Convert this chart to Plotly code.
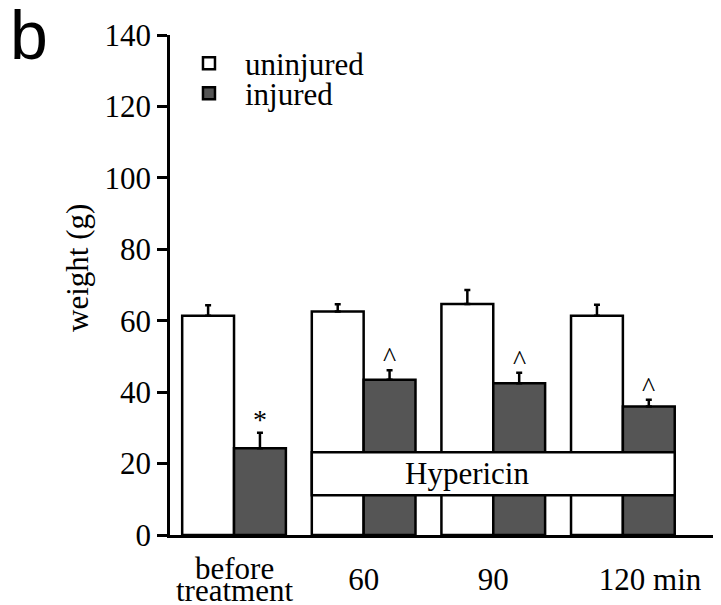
import plotly.graph_objects as go

# ---- data ----
categories = ["before treatment", "60", "90", "120 min"]
tick_labels = ["", "60", "90", "\u00a0" * 7 + "120 min"]
before_label_lines = ["before", "treatment"]
uninjured = [61.4, 62.6, 64.7, 61.4]
uninjured_err = [2.9, 2.0, 3.9, 3.1]
injured = [24.3, 43.5, 42.5, 36.0]
injured_err = [4.3, 2.6, 2.9, 1.9]
injured_marks = ["*", "^", "^", "^"]
hypericin_groups = [1, 3]          # first and last group under Hypericin
hypericin_band = [11.1, 23.2]      # vertical extent of the Hypericin bar
y_ticks = [0, 20, 40, 60, 80, 100, 120, 140]

# ---- layout constants ----
SERIF = "Liberation Serif"
SANS = "Liberation Sans"
FS = 31
BARGAP = 0.2
BAR_W = (1 - BARGAP) / 2
LW = 2.5
DARK = "#555555"

x_pos = list(range(len(categories)))

fig = go.Figure()
fig.add_trace(go.Bar(
    name="uninjured", x=x_pos, y=uninjured, legend="legend",
    marker=dict(color="white", line=dict(color="black", width=LW)),
    error_y=dict(type="data", symmetric=False, array=uninjured_err,
                 arrayminus=[0] * len(uninjured_err), color="black",
                 thickness=LW, width=3),
))
fig.add_trace(go.Bar(
    name="injured", x=x_pos, y=injured, legend="legend2",
    marker=dict(color=DARK, line=dict(color="black", width=LW)),
    error_y=dict(type="data", symmetric=False, array=injured_err,
                 arrayminus=[0] * len(injured_err), color="black",
                 thickness=LW, width=3),
))

annotations = []
# significance marks above injured bars
for i, m in enumerate(injured_marks):
    annotations.append(dict(
        x=x_pos[i] + BAR_W / 2, y=injured[i] + injured_err[i],
        xref="x", yref="y", text=m, showarrow=False,
        xanchor="center", yanchor="bottom", yshift=-4,
        font=dict(family=SERIF, size=28)))

# two-line first category label
for k, line in enumerate(before_label_lines):
    annotations.append(dict(
        x=x_pos[0], y=0, xref="x", yref="paper", text=line, showarrow=False,
        xanchor="center", yanchor="middle", yshift=-33 - 22 * k,
        font=dict(family=SERIF, size=FS)))

# Hypericin label
annotations.append(dict(
    x=1.8, y=sum(hypericin_band) / 2, xref="x", yref="y", text="Hypericin",
    xanchor="center", yanchor="middle", showarrow=False,
    font=dict(family=SERIF, size=FS)))

# y-axis title
annotations.append(dict(
    x=-0.168, y=0.535, xref="paper", yref="paper", text="weight (g)",
    xanchor="center", yanchor="middle",
    textangle=-90, showarrow=False, font=dict(family=SERIF, size=FS)))

# panel letter
annotations.append(dict(
    x=-0.294, y=1.0, xref="paper", yref="paper", text="b",
    xanchor="left", yanchor="middle", showarrow=False,
    font=dict(family=SANS, size=68)))

shapes = [dict(
    type="rect", xref="x", yref="y", layer="above",
    x0=hypericin_groups[0] - BAR_W, x1=hypericin_groups[1] + BAR_W,
    y0=hypericin_band[0], y1=hypericin_band[1],
    fillcolor="white", line=dict(color="black", width=LW))]

legend_style = dict(xanchor="left", yanchor="top", bgcolor="rgba(0,0,0,0)",
                    font=dict(family=SERIF, size=FS), itemwidth=62)

fig.update_layout(
    width=721, height=605,
    margin=dict(l=162, r=8, t=27, b=78, autoexpand=False),
    plot_bgcolor="white", paper_bgcolor="white",
    barmode="group", bargap=BARGAP, bargroupgap=0,
    font=dict(family=SERIF, size=FS, color="black"),
    showlegend=True,
    legend=dict(x=0.0054, y=0.997, **legend_style),
    legend2=dict(x=0.0054, y=0.937, **legend_style),
    annotations=annotations,
    shapes=shapes,
)
fig.update_xaxes(
    range=[-0.494, 3.757], tickmode="array", tickvals=x_pos, ticktext=tick_labels,
    showline=True, linecolor="black", linewidth=LW, ticks="",
    showgrid=False, zeroline=False, tickfont=dict(family=SERIF, size=FS),
    ticklabelstandoff=15, automargin=False,
)
fig.update_yaxes(
    range=[0, 140], tickmode="array", tickvals=y_ticks,
    showline=True, linecolor="black", linewidth=LW,
    ticks="outside", ticklen=10, tickwidth=LW, tickcolor="black",
    showgrid=False, zeroline=False, tickfont=dict(family=SERIF, size=FS),
    ticklabelstandoff=0, automargin=False,
)

fig.write_html("out.html")
